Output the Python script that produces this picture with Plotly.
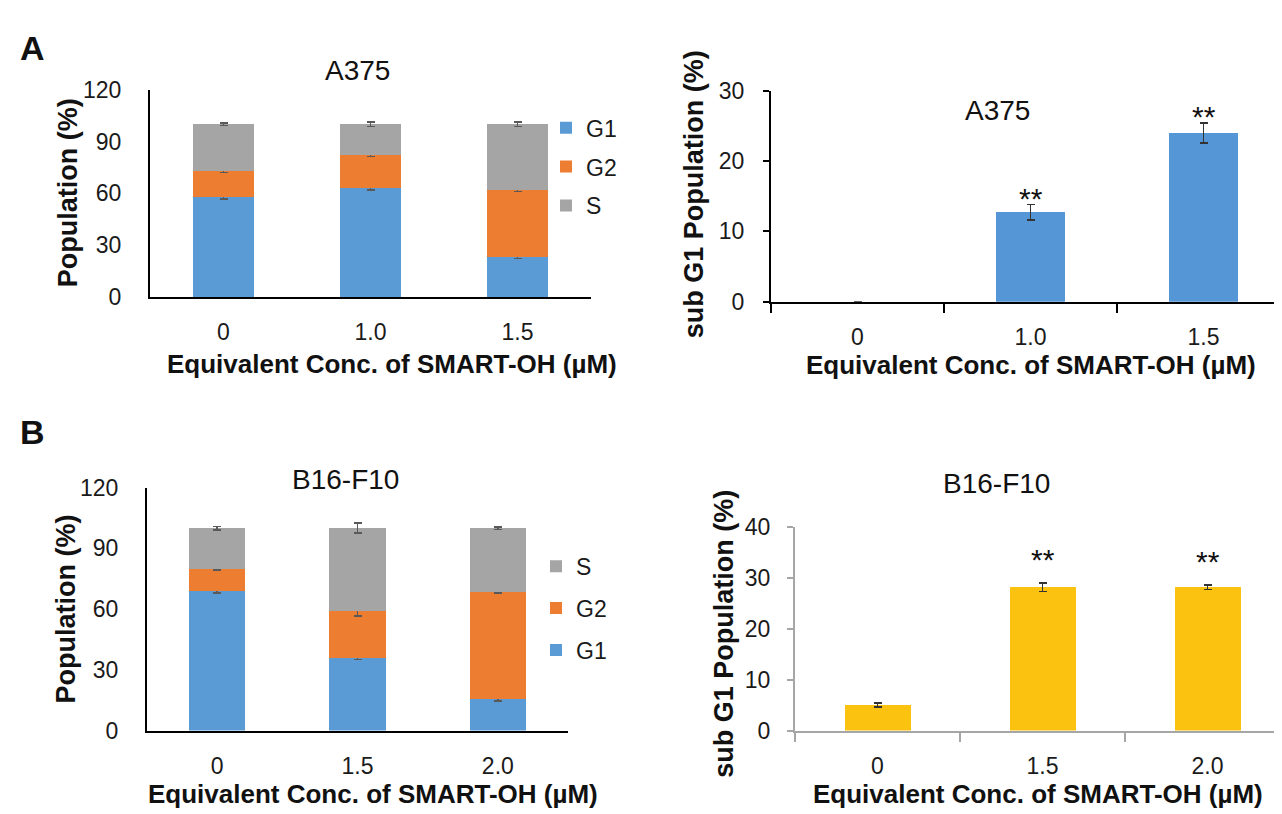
import plotly.graph_objects as go

# ---------------- data ----------------
a_conc = ["0", "1.0", "1.5"]
a_g1 = [58.0, 63.0, 23.0]
a_g2 = [15.0, 19.0, 39.0]
a_s = [27.0, 18.0, 38.0]
a_g1_err = [1.2, 1.0, 0.8]
a_g2_err = [1.0, 0.8, 1.0]
a_s_err = [0.8, 1.2, 1.3]

a_sub = [0.0, 12.7, 24.0]
a_sub_err = [0.0, 1.1, 1.4]
a_sig = ["", "**", "**"]

b_conc = ["0", "1.5", "2.0"]
b_g1 = [69.0, 36.0, 15.5]
b_g2 = [11.0, 23.0, 53.0]
b_s = [20.0, 41.0, 31.5]
b_g1_err = [1.0, 0.8, 1.0]
b_g2_err = [0.6, 2.5, 0.6]
b_s_err = [0.9, 2.5, 0.6]

b_sub = [5.0, 28.2, 28.2]
b_sub_err = [0.4, 0.8, 0.4]
b_sig = ["", "**", "**"]

# ---------------- style ----------------
FONT = "Liberation Sans, Arial, sans-serif"
C_G1, C_G2, C_S = "#5b9bd5", "#ed7d31", "#a5a5a5"
C_BLUE, C_YEL = "#5597d6", "#fbc20f"
W, H = 1282, 814


def px(x):
    return x / W


def py(y):
    return 1 - y / H


fig = go.Figure()


def err(arr, color="#595959"):
    return dict(type="data", array=arr, color=color, thickness=1.5, width=4)


# A left stacked
for rank, (name, vals, errs, col) in enumerate([("G1", a_g1, a_g1_err, C_G1), ("G2", a_g2, a_g2_err, C_G2),
                                                 ("S", a_s, a_s_err, C_S)]):
    fig.add_trace(go.Bar(x=a_conc, y=vals, name=name, marker=dict(color=col, line=dict(width=0)),
                         error_y=err(errs), width=0.41, xaxis="x", yaxis="y",
                         legend="legend", legendgroup="A" + name, legendrank=rank + 1))

# A right
fig.add_trace(go.Bar(x=a_conc, y=a_sub, marker=dict(color=C_BLUE, line=dict(width=0)),
                     error_y=err(a_sub_err, "#333333"), width=0.40, xaxis="x2", yaxis="y2", showlegend=False))

# B left stacked (legend shows S, G2, G1 from top)
for rank, (name, vals, errs, col) in enumerate([("G1", b_g1, b_g1_err, C_G1), ("G2", b_g2, b_g2_err, C_G2),
                                                 ("S", b_s, b_s_err, C_S)]):
    fig.add_trace(go.Bar(x=b_conc, y=vals, name=name, marker=dict(color=col, line=dict(width=0)),
                         error_y=err(errs), width=0.40, xaxis="x3", yaxis="y3",
                         legend="legend2", legendgroup="B" + name, legendrank=3 - rank))

# B right
fig.add_trace(go.Bar(x=b_conc, y=b_sub, marker=dict(color=C_YEL, line=dict(width=0)),
                     error_y=err(b_sub_err, "#333333"), width=0.40, xaxis="x4", yaxis="y4", showlegend=False))

tickfont = dict(family=FONT, size=23, color="#1a1a1a")


def xax(domain, anchor, linecolor="#000000", boundaries=False):
    d = dict(domain=domain, anchor=anchor, type="category", showgrid=False, zeroline=False,
             showline=True, linecolor=linecolor, linewidth=2, tickfont=tickfont,
             ticklabelstandoff=14, fixedrange=True)
    if boundaries:
        d.update(ticks="outside", tickson="boundaries", ticklen=9, tickwidth=1.5, tickcolor=linecolor)
    else:
        d.update(ticks="")
    return d


def yax(domain, anchor, rng, dtick, linecolor="#000000", ticks=False, standoff=20):
    d = dict(domain=domain, anchor=anchor, range=rng, dtick=dtick, showgrid=False, zeroline=False,
             showline=True, linecolor=linecolor, linewidth=2, tickfont=tickfont,
             ticklabelstandoff=standoff, fixedrange=True)
    if ticks:
        d.update(ticks="outside", ticklen=6, tickwidth=1.5, tickcolor=linecolor)
    else:
        d.update(ticks="")
    return d


GRAY_AX = "#a6a6a6"
legfont = dict(family=FONT, size=23, color="#1a1a1a")

fig.update_layout(
    width=W, height=H, margin=dict(l=0, r=0, t=0, b=0),
    paper_bgcolor="white", plot_bgcolor="white",
    barmode="stack", bargap=0.6,
    font=dict(family=FONT, color="#1a1a1a"),
    xaxis=xax([px(142), px(583)], "y"),
    yaxis=yax([py(285), py(71)], "x", [0, 120], 30, standoff=22),
    xaxis2=xax([px(763), 1.0], "y2", boundaries=True),
    yaxis2=yax([py(290), py(72)], "x2", [0, 30], 10, ticks=True, standoff=14),
    xaxis3=xax([px(139), px(560)], "y3"),
    yaxis3=yax([py(733), py(482)], "x3", [0, 120], 30, standoff=22),
    xaxis4=xax([px(787), 1.0], "y4", linecolor=GRAY_AX, boundaries=True),
    yaxis4=yax([py(733), py(523)], "x4", [0, 40], 10, linecolor=GRAY_AX, ticks=True, standoff=12),
    legend=dict(x=px(538), y=py(88), xanchor="left", yanchor="top", traceorder="grouped",
                font=legfont, tracegroupgap=6, bgcolor="rgba(0,0,0,0)"),
    legend2=dict(x=px(528), y=py(541), xanchor="left", yanchor="top", traceorder="grouped",
                 font=legfont, tracegroupgap=9, bgcolor="rgba(0,0,0,0)"),
    showlegend=True,
)

anns = []


def text(x, y, s, size, bold=False, angle=0):
    anns.append(dict(x=px(x), y=py(y), xref="paper", yref="paper", text=("<b>%s</b>" % s) if bold else s,
                     showarrow=False, xanchor="center", yanchor="middle", textangle=angle,
                     font=dict(family=FONT, size=size, color="#111111")))


XT = "Equivalent Conc. of SMART-OH (µM)"
text(24, 28, "A", 34, bold=True)
text(24, 425, "B", 34, bold=True)
text(349, 51, "A375", 28)
text(989, 92, "A375", 28)
text(338, 474, "B16-F10", 28)
text(988, 478, "B16-F10", 28)
text(384, 354, XT, 26, bold=True)
text(1023, 355, XT, 26, bold=True)
text(365, 798, XT, 26, bold=True)
text(1030, 798, XT, 26, bold=True)
text(60, 178, "Population (%)", 27, bold=True, angle=-90)
text(686, 179, "sub G1 Population (%)", 27, bold=True, angle=-90)
text(58, 608, "Population (%)", 27, bold=True, angle=-90)
text(716, 633, "sub G1 Population (%)", 27, bold=True, angle=-90)

for i, (v, e, s) in enumerate(zip(a_sub, a_sub_err, a_sig)):
    if s:
        anns.append(dict(x=i, y=v + e, xref="x2", yref="y2", text=s, showarrow=False,
                         yanchor="bottom", yshift=-12, font=dict(family=FONT, size=30, color="#111111")))
for i, (v, e, s) in enumerate(zip(b_sub, b_sub_err, b_sig)):
    if s:
        anns.append(dict(x=i, y=v + e, xref="x4", yref="y4", text=s, showarrow=False,
                         yanchor="bottom", yshift=5, font=dict(family=FONT, size=30, color="#111111")))

fig.update_layout(annotations=anns)
fig.write_html("out.html")
